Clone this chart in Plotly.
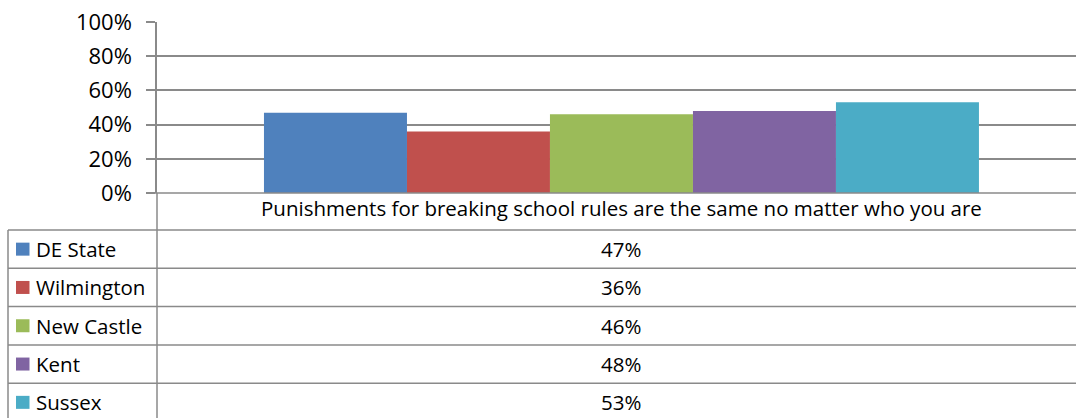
import plotly.graph_objects as go

# Survey item and regional results
category = "Punishments for breaking school rules are the same no matter who you are"
series_names = ["DE State", "Wilmington", "New Castle", "Kent", "Sussex"]
series_values = [0.47, 0.36, 0.46, 0.48, 0.53]
series_colors = ["#4F81BD", "#C0504D", "#9BBB59", "#8064A2", "#4BACC6"]
y_tick_values = [0, 0.2, 0.4, 0.6, 0.8, 1.0]

W, H = 1076, 418
FONT = "Open Sans"
LINE = "#8a8a8a"
TXT = 20.5


def px_x(v):
    return v / W


def px_y(v):
    return 1 - v / H


# layout geometry (pixels)
plot_left, plot_right = 157, 1076
plot_top, plot_bottom = 22, 193
table_left = 8
table_top = 230
row_h = 38.3

fig = go.Figure()
for name, val, col in zip(series_names, series_values, series_colors):
    fig.add_trace(go.Bar(
        x=[category], y=[val], name=name,
        marker=dict(color=col, line=dict(width=0)),
        showlegend=False, hoverinfo="skip",
    ))

shift = 0.0054
fig.update_layout(
    width=W, height=H,
    margin=dict(l=0, r=0, t=0, b=0),
    paper_bgcolor="white", plot_bgcolor="white",
    barmode="group", bargap=0.222, bargroupgap=0,
    font=dict(family=FONT, color="black"),
    xaxis=dict(
        type="category", automargin=False,
        domain=[px_x(plot_left), px_x(plot_right)],
        range=[-0.5 - shift, 0.5 - shift],
        showgrid=False, zeroline=False, showline=False,
        ticks="", tickfont=dict(size=TXT, family=FONT, color="black"),
        ticklabelstandoff=1,
        fixedrange=True,
    ),
    yaxis=dict(
        automargin=False,
        domain=[px_y(plot_bottom), px_y(plot_top)],
        range=[0, 1],
        tickvals=y_tick_values, tickformat=".0%",
        showgrid=True, gridcolor=LINE, gridwidth=1.5,
        zeroline=False,
        showline=True, linecolor=LINE, linewidth=1.5,
        ticks="outside", ticklen=9, tickcolor=LINE, tickwidth=1.5,
        tickfont=dict(size=22, family=FONT, color="black"),
        ticklabelstandoff=10,
        fixedrange=True,
    ),
)

shapes = []
# axis baseline extended with left tick
shapes.append(dict(type="line", xref="paper", yref="paper",
                   x0=px_x(148), x1=px_x(W), y0=px_y(plot_bottom), y1=px_y(plot_bottom),
                   line=dict(color=LINE, width=1.5)))
# vertical separator continuing through the table
shapes.append(dict(type="line", xref="paper", yref="paper",
                   x0=px_x(plot_left), x1=px_x(plot_left), y0=px_y(plot_bottom), y1=0,
                   line=dict(color=LINE, width=1.5)))
# left table border
shapes.append(dict(type="line", xref="paper", yref="paper",
                   x0=px_x(table_left), x1=px_x(table_left), y0=px_y(table_top), y1=0,
                   line=dict(color=LINE, width=1.5)))

annotations = []
for i, (name, val, col) in enumerate(zip(series_names, series_values, series_colors)):
    top = table_top + i * row_h
    mid = top + row_h / 2
    shapes.append(dict(type="line", xref="paper", yref="paper",
                       x0=px_x(table_left), x1=px_x(W), y0=px_y(top), y1=px_y(top),
                       line=dict(color=LINE, width=1.5)))
    # legend key
    shapes.append(dict(type="rect", xref="paper", yref="paper",
                       x0=px_x(16), x1=px_x(29.5), y0=px_y(mid - 6.5), y1=px_y(mid + 6.5),
                       fillcolor=col, line=dict(width=0)))
    annotations.append(dict(xref="paper", yref="paper", x=px_x(34), y=px_y(mid),
                            xanchor="left", yanchor="middle", showarrow=False,
                            text=name, font=dict(size=TXT, family=FONT, color="black")))
    annotations.append(dict(xref="x", yref="paper", x=category, y=px_y(mid),
                            xanchor="center", yanchor="middle", showarrow=False,
                            text=f"{val:.0%}", font=dict(size=TXT, family=FONT, color="black")))

fig.update_layout(shapes=shapes, annotations=annotations)
fig.write_html("out.html")
